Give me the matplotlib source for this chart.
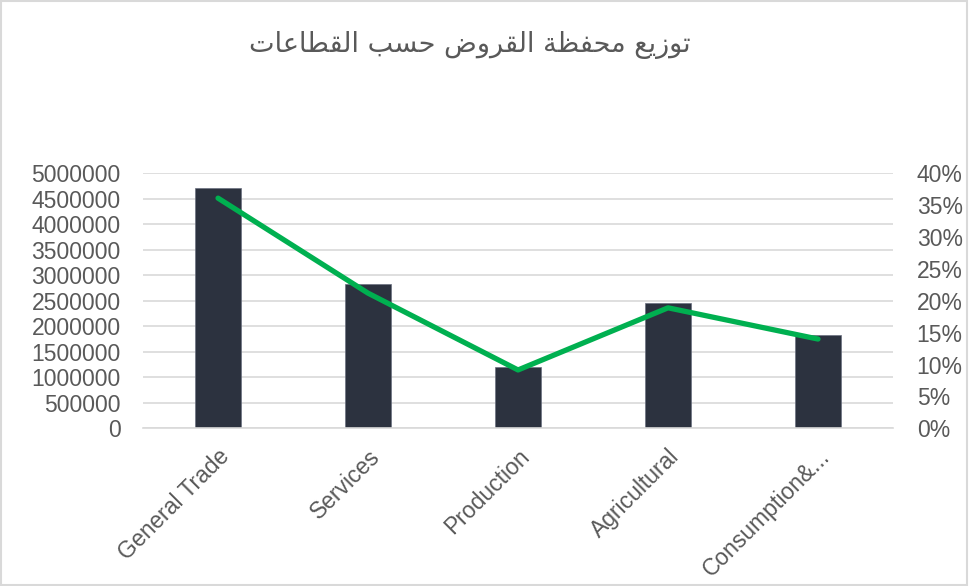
import unicodedata
import matplotlib.pyplot as plt
from matplotlib.ticker import PercentFormatter, MultipleLocator
from matplotlib.patches import Rectangle

# ---------------- data ----------------
title_ar = "توزيع محفظة القروض حسب القطاعات"
sectors = ["General Trade", "Services", "Production", "Agricultural", "Consumption&..."]
loans = [4720000, 2830000, 1200000, 2450000, 1820000]
shares = [0.361, 0.212, 0.0915, 0.189, 0.140]

# ---------------- arabic shaping (no bidi lib available) ----------------
RIGHT_ONLY = set("اأإآدذرزوؤةى")

def forme(ch, form):
    try:
        return unicodedata.lookup(unicodedata.name(ch) + " " + form + " FORM")
    except KeyError:
        return ch

def arabe(texte):
    out = []
    for mot in texte.split(" "):
        res = ""
        for i, ch in enumerate(mot):
            prev_joins = i > 0 and mot[i - 1] not in RIGHT_ONLY
            next_joins = i < len(mot) - 1 and ch not in RIGHT_ONLY
            if prev_joins and next_joins:
                res += forme(ch, "MEDIAL")
            elif prev_joins:
                res += forme(ch, "FINAL")
            elif next_joins:
                res += forme(ch, "INITIAL")
            else:
                res += forme(ch, "ISOLATED")
        out.append(res)
    return " ".join(out)[::-1]

# ---------------- plot ----------------
plt.rcParams['font.family'] = ['Liberation Sans', 'DejaVu Sans']
grey_txt = '#595959'
grid_col = '#D9D9D9'
taille = 16.5

fig = plt.figure(figsize=(9.69, 5.86), dpi=100)
ax = fig.add_axes([0.1476, 0.2691, 0.7740, 0.4352])
ax2 = ax.twinx()

x = list(range(len(sectors)))
ax.bar(x, loans, width=0.31, color='#2C323F', edgecolor='#6B7080', linewidth=0.5, zorder=2)
ax2.plot(x, shares, color='#00B050', linewidth=3.8, solid_capstyle='round',
         solid_joinstyle='round', zorder=3)

ax.set_xlim(-0.5, len(sectors) - 0.5)
ax.set_ylim(0, 5000000)
ax.yaxis.set_major_locator(MultipleLocator(500000))
ax.yaxis.set_major_formatter(plt.FuncFormatter(lambda v, p: f"{int(v)}"))
ax2.set_ylim(0, 0.40)
ax2.yaxis.set_major_locator(MultipleLocator(0.05))
ax2.yaxis.set_major_formatter(PercentFormatter(1.0, decimals=0))

ax.grid(axis='y', color=grid_col, linewidth=1.2, zorder=0)
ax.set_axisbelow(True)
for a in (ax, ax2):
    for s in a.spines.values():
        s.set_visible(False)
ax.spines['bottom'].set_visible(True)
ax.spines['bottom'].set_color(grid_col)
ax.spines['bottom'].set_linewidth(1.2)

ax.tick_params(axis='y', length=0, pad=16, labelsize=taille, labelcolor=grey_txt)
ax2.tick_params(axis='y', length=0, pad=17, labelsize=taille, labelcolor=grey_txt)
ax.tick_params(axis='x', length=0, pad=12, labelsize=taille, labelcolor=grey_txt)
ax.set_xticks(x)
ax.set_xticklabels(sectors, rotation=45, ha='right', rotation_mode='anchor')

fig.text(0.485, 0.923, arabe(title_ar), ha='center', va='center', fontsize=19.5,
         color=grey_txt, family=['DejaVu Sans'])

fig.patches.append(Rectangle((0.001, 0.002), 0.997, 0.996, transform=fig.transFigure,
                             fill=False, edgecolor=grid_col, linewidth=1.5))

fig.savefig("out.png", dpi=100)
